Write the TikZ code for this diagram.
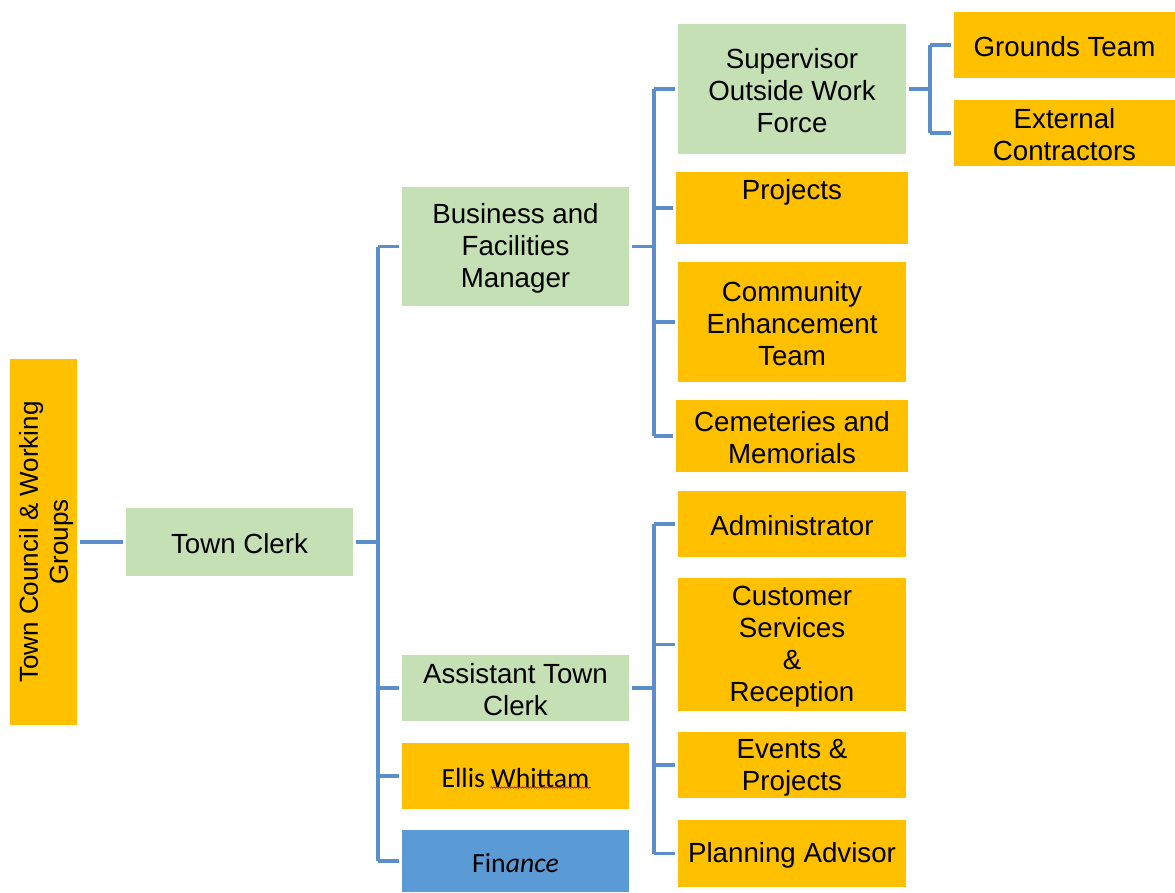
\documentclass[tikz,border=0pt]{standalone}
\usepackage{fontspec}
\setmainfont{Liberation Sans}
\newfontfamily\calibri{Carlito}
\usetikzlibrary{decorations.pathmorphing}
\definecolor{orgorange}{HTML}{FFC000}
\definecolor{orggreen}{HTML}{C5E0B4}
\definecolor{orgblue}{HTML}{5B9BD5}
\definecolor{connblue}{HTML}{5A8FCB}
% a tall invisible strut that sets the first line a little lower
\newcommand\topstrut{\rule{0pt}{24pt}}
\begin{document}
\begin{tikzpicture}[x=1pt,y=-1pt,
  box/.style={rectangle, inner sep=0pt, align=center,
    font=\fontsize{27.7}{32}\selectfont},
  mgr/.style={box, fill=orggreen},
  team/.style={box, fill=orgorange},
  conn/.style={draw=connblue, line width=3.4pt}]
\useasboundingbox (0,0) rectangle (1175,892);

% first level
\node[team, rotate=90, minimum width=366, minimum height=67,
  font=\fontsize{26}{30}\selectfont] (tcwg) at (43.5,542)
  {\topstrut Town Council \& Working\\Groups};
\node[mgr, minimum width=227, minimum height=68] (tc) at (239.5,542) {\topstrut Town Clerk};

% second level
\node[mgr, minimum width=227, minimum height=119] (bfm) at (515.5,246.5)
  {\topstrut Business and\\Facilities\\Manager};
\node[mgr, minimum width=227, minimum height=66] (atc) at (515.5,688)
  {\topstrut Assistant Town\\Clerk};
\node[team, minimum width=227, minimum height=66, font=\calibri\fontsize{27.7}{32}\selectfont]
  (ellis) at (515.5,776) {\topstrut Ellis Whittam};
\node[box, fill=orgblue, minimum width=227, minimum height=62, font=\calibri\fontsize{27.7}{32}\selectfont]
  (fin) at (515.5,861) {\topstrut Fin\textit{ance}};

% under the Business and Facilities Manager
\node[mgr, minimum width=228, minimum height=130] (sup) at (792,89)
  {\topstrut Supervisor\\Outside Work\\Force};
\node[team, minimum width=232, minimum height=72] (proj) at (792,208) {\topstrut Projects\\\strut};
\node[team, minimum width=228, minimum height=120] (comm) at (792,322)
  {\topstrut Community\\Enhancement\\Team};
\node[team, minimum width=232, minimum height=72] (cem) at (792,436)
  {\topstrut Cemeteries and\\Memorials};

% under the Supervisor
\node[team, minimum width=221, minimum height=66] (grd) at (1064.5,45) {\topstrut Grounds Team};
\node[team, minimum width=221, minimum height=66] (ext) at (1064.5,133)
  {\topstrut External\\Contractors};

% under the Assistant Town Clerk
\node[team, minimum width=228, minimum height=66] (adm) at (792,524) {\topstrut Administrator};
\node[team, minimum width=228, minimum height=133] (cust) at (792,644.5)
  {\topstrut Customer\\Services\\\&\\Reception};
\node[team, minimum width=228, minimum height=66] (evt) at (792,765)
  {\topstrut Events \&\\Projects};
\node[team, minimum width=228, minimum height=67] (plan) at (792,853.5) {\topstrut Planning Advisor};

% spell-check squiggle under the surname
\draw[red!85!black, line width=0.6pt, decorate,
  decoration={snake, amplitude=0.7pt, segment length=2.6pt}]
  ([shift={(-25,11.5)}]ellis.center) -- ([shift={(75,11.5)}]ellis.center);

% trunk lines
\coordinate (t1) at (378,0);
\coordinate (t2) at (654,0);
\coordinate (t3) at (930,0);

\draw[conn] ([xshift=3]tcwg.south) -- ([xshift=-3]tc.west);

\draw[conn] ([xshift=3]tc.east) -- (tc.east -| t1);
\draw[conn] (t1 |- bfm.west) -- (t1 |- fin.west);
\foreach \n in {bfm,atc,ellis,fin}
  \draw[conn] (t1 |- \n.west) -- ([xshift=-3]\n.west);

\draw[conn] ([xshift=3]bfm.east) -- (bfm.east -| t2);
\draw[conn] (t2 |- sup.west) -- (t2 |- cem.west);
\foreach \n in {sup,proj,comm,cem}
  \draw[conn] (t2 |- \n.west) -- ([xshift=-3]\n.west);

\draw[conn] ([xshift=3]atc.east) -- (atc.east -| t2);
\draw[conn] (t2 |- adm.west) -- (t2 |- plan.west);
\foreach \n in {adm,cust,evt,plan}
  \draw[conn] (t2 |- \n.west) -- ([xshift=-3]\n.west);

\draw[conn] ([xshift=3]sup.east) -- (sup.east -| t3);
\draw[conn] (t3 |- grd.west) -- (t3 |- ext.west);
\foreach \n in {grd,ext}
  \draw[conn] (t3 |- \n.west) -- ([xshift=-3]\n.west);
\end{tikzpicture}
\end{document}
